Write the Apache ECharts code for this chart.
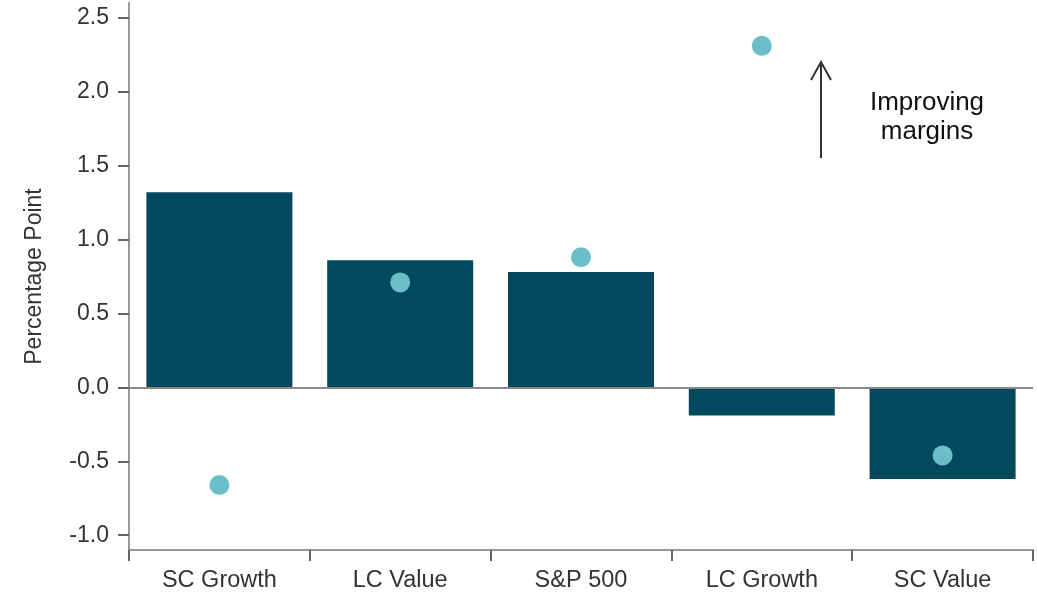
<!DOCTYPE html>
<html>
<head>
<meta charset="utf-8">
<script src="https://cdn.jsdelivr.net/npm/echarts@6/dist/echarts.min.js"></script>
<style>html,body{margin:0;padding:0;background:#fff;}#c{width:1037px;height:593px;}</style>
</head>
<body>
<div id="c"></div>
<script>
const categories = ['SC Growth', 'LC Value', 'S&P 500', 'LC Growth', 'SC Value'];
const barValues = [1.32, 0.86, 0.78, -0.19, -0.62];
const dotValues = [-0.66, 0.71, 0.88, 2.31, -0.46];
const yTicks = [-1.0, -0.5, 0.0, 0.5, 1.0, 1.5, 2.0, 2.5];

const chart = echarts.init(document.getElementById('c'));
const font = 'Liberation Sans, Arial, sans-serif';
chart.setOption({
  animation: false,
  grid: { left: 129, right: 4, top: 3, bottom: 43, containLabel: false },
  xAxis: {
    type: 'category',
    data: categories,
    axisLine: { onZero: false, lineStyle: { color: '#999', width: 2 } },
    axisTick: { show: true, length: 11, interval: (i) => i < categories.length, lineStyle: { color: '#666', width: 2 } },
    axisLabel: { color: '#333', fontSize: 23.5, fontFamily: font, margin: 19 },
    splitLine: { show: false }
  },
  yAxis: {
    type: 'value',
    min: -1.1,
    max: 2.6,
    name: 'Percentage Point',
    nameLocation: 'middle',
    nameGap: 83,
    nameRotate: 90,
    nameTextStyle: { color: '#333', fontSize: 23, fontFamily: font },
    axisLine: { show: true, lineStyle: { color: '#999', width: 2 } },
    axisTick: { show: true, length: 11, customValues: yTicks, lineStyle: { color: '#666', width: 2 } },
    axisLabel: { color: '#333', fontSize: 23, fontFamily: font, margin: 20, customValues: yTicks,
      formatter: v => v.toFixed(1) },
    splitLine: { show: false }
  },
  series: [
    {
      type: 'bar',
      data: barValues,
      barWidth: 146,
      itemStyle: { color: '#02495e' },
      markLine: {
        silent: true,
        symbol: ['none', 'none'],
        label: { show: false },
        lineStyle: { color: '#888', width: 2, type: 'solid' },
        data: [{ yAxis: 0 }]
      },
      z: 2
    },
    {
      type: 'scatter',
      data: dotValues,
      symbolSize: 20,
      itemStyle: { color: '#6bbec8', opacity: 1 },
      z: 5
    }
  ],
  graphic: [
    { type: 'line', shape: { x1: 821, y1: 158, x2: 821, y2: 62 }, style: { stroke: '#333', lineWidth: 2 } },
    { type: 'polyline', shape: { points: [[811, 80], [821, 62], [831, 80]] }, style: { stroke: '#333', lineWidth: 2, fill: null } },
    { type: 'text', x: 927, y: 117, style: { text: 'Improving\nmargins', fill: '#111', fontSize: 26, fontFamily: font,
      align: 'center', verticalAlign: 'middle', lineHeight: 29 } }
  ]
});
</script>
</body>
</html>
